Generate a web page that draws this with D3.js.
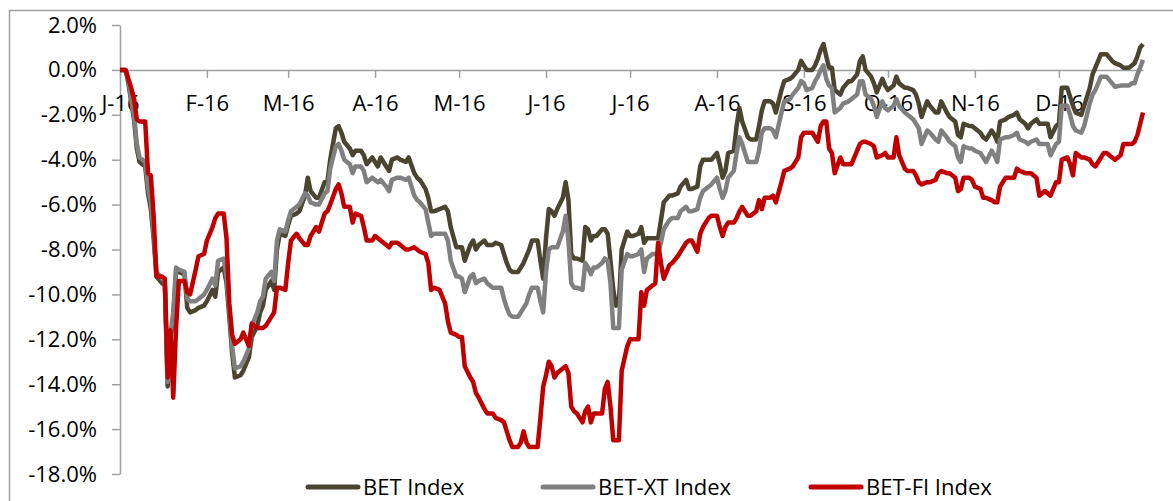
<!DOCTYPE html>
<html>
<head>
<meta charset="utf-8">
<title>BET indices 2016</title>
<style>
body { margin: 0; background: #fff; }
.axis text { font-family: "Open Sans", sans-serif; font-size: 22px; fill: #000; }
.axis path, .axis line { stroke: #a0a0a0; stroke-width: 1.5; }
.legend text { font-family: "Open Sans", sans-serif; font-size: 22px; fill: #000; }
.line { fill: none; stroke-width: 4.5; stroke-linejoin: round; }
</style>
<script src="https://d3js.org/d3.v7.min.js"></script>
</head>
<body>
<svg id="chart" width="1173" height="501"></svg>
<script>

// day offsets from 1 Jan 2016
var dayOfYear = [
  0, 2, 3, 4, 5, 6, 7, 9, 10, 11,
  12, 13, 15, 16, 17, 18, 19, 20, 21, 23,
  24, 25, 27, 28, 30, 31, 33, 34, 35, 37,
  38, 39, 40, 41, 43, 44, 46, 47, 49, 50,
  51, 52, 54, 55, 56, 57, 59, 60, 61, 63,
  64, 66, 67, 68, 70, 71, 73, 74, 75, 77,
  78, 79, 80, 82, 83, 84, 86, 87, 88, 90,
  91, 92, 93, 95, 96, 97, 99, 100, 102, 103,
  105, 106, 107, 109, 110, 111, 112, 114, 116, 117,
  118, 120, 121, 122, 123, 125, 126, 127, 128, 130,
  131, 133, 134, 136, 137, 138, 139, 140, 142, 143,
  144, 145, 146, 147, 149, 150, 151, 152, 153, 154,
  155, 156, 158, 159, 160, 161, 162, 163, 165, 166,
  167, 168, 169, 170, 172, 173, 174, 175, 176, 177,
  178, 179, 181, 182, 183, 185, 186, 187, 188, 190,
  191, 192, 193, 194, 196, 197, 199, 200, 202, 203,
  204, 206, 207, 208, 210, 211, 213, 214, 215, 216,
  217, 219, 220, 221, 222, 224, 225, 227, 228, 229,
  230, 232, 233, 234, 236, 237, 239, 240, 242, 243,
  244, 245, 247, 248, 249, 250, 251, 252, 253, 254,
  255, 257, 258, 260, 261, 263, 264, 265, 266, 268,
  269, 270, 272, 273, 274, 276, 277, 278, 280, 281,
  283, 284, 285, 286, 288, 289, 291, 292, 293, 295,
  296, 298, 299, 300, 301, 303, 304, 305, 307, 308,
  309, 311, 312, 313, 314, 316, 317, 319, 320, 321,
  323, 324, 325, 327, 328, 330, 331, 332, 334, 335,
  336, 338, 339, 340, 341, 343, 344, 346, 347, 348,
  350, 351, 352, 354, 355, 357, 358, 360, 361, 362,
  363, 364, 365
];

var betIndex = [
  0, 0, -0.6, -1.4, -2.2, -3.5, -4.1, -4.3, -5.5, -6.2,
  -7.5, -9.2, -9.5, -9.6, -14.1, -12.0, -11.0, -9.0, -9.0, -9.1,
  -10.6, -10.8, -10.7, -10.6, -10.5, -10.3, -9.8, -10.1, -9.0, -8.8,
  -9.5, -11.0, -12.6, -13.7, -13.6, -13.4, -12.8, -11.9, -11.4, -10.8,
  -10.5, -9.8, -9.4, -9.8, -8.0, -7.3, -7.4, -6.9, -6.5, -6.4,
  -6.3, -5.6, -4.8, -5.4, -5.7, -5.7, -5.0, -5.0, -4.0, -2.6,
  -2.5, -2.8, -3.2, -3.5, -3.8, -3.6, -3.6, -3.8, -4.2, -3.9,
  -4.1, -4.3, -3.9, -4.3, -4.5, -4.0, -3.9, -4.0, -4.1, -3.9,
  -4.6, -4.8, -4.9, -5.3, -5.7, -6.3, -6.3, -6.2, -6.1, -6.3,
  -7.0, -7.9, -7.9, -7.9, -8.5, -7.8, -7.6, -8.0, -7.8, -7.6,
  -7.8, -7.8, -7.7, -7.8, -8.2, -8.6, -8.9, -9.0, -9.0, -8.8,
  -8.6, -8.3, -8.0, -7.6, -7.6, -8.5, -9.3, -7.5, -6.2, -6.3,
  -6.5, -6.2, -5.7, -5.0, -5.8, -8.2, -8.4, -8.4, -8.5, -7.0,
  -7.1, -7.6, -7.4, -7.4, -7.1, -7.1, -7.3, -8.5, -9.8, -10.5,
  -10.4, -8.0, -7.2, -7.4, -7.4, -7.3, -7.0, -7.7, -7.5, -7.5,
  -7.5, -7.5, -6.7, -5.9, -5.6, -5.6, -5.5, -5.2, -4.9, -5.3,
  -5.3, -5.2, -4.3, -4.0, -4.0, -4.0, -3.7, -4.2, -4.8, -4.5,
  -3.7, -3.6, -2.5, -1.7, -2.3, -3.0, -3.1, -3.1, -2.5, -1.8,
  -1.4, -1.4, -1.5, -1.9, -0.9, -0.5, -0.4, -0.3, 0.0, 0.4,
  0.2, 0.0, 0.0, 0.2, 0.5, 0.9, 1.15, 0.6, 0.1, 0.1,
  -0.9, -1.1, -0.8, -0.5, -0.5, -0.2, 0.4, 0.6, 0.0, -0.3,
  -0.6, -1.0, -0.4, -0.7, -0.9, -0.7, -0.3, -0.6, -0.8, -0.8,
  -0.9, -1.1, -1.5, -2.1, -1.4, -1.6, -1.9, -1.9, -1.4, -1.9,
  -2.1, -2.3, -2.9, -3.0, -2.4, -2.5, -2.5, -2.6, -2.8, -3.0,
  -3.1, -2.7, -2.9, -3.2, -2.3, -2.2, -2.1, -2.0, -1.9, -2.2,
  -2.4, -2.6, -2.4, -2.2, -2.4, -2.4, -2.4, -3.0, -2.5, -2.4,
  -0.8, -0.8, -1.2, -1.6, -1.9, -2.0, -1.6, -0.8, -0.2, 0.1,
  0.7, 0.7, 0.7, 0.4, 0.3, 0.2, 0.1, 0.1, 0.2, 0.3,
  0.6, 1.0, 1.15
];

var betXtIndex = [
  0, 0, -0.5, -1.3, -2.0, -3.3, -3.9, -4.1, -5.2, -5.9,
  -7.2, -9.0, -9.3, -9.4, -13.9, -11.8, -10.8, -8.8, -8.9, -9.0,
  -10.2, -10.3, -10.3, -10.2, -10.0, -9.8, -9.3, -9.6, -8.5, -8.4,
  -9.2, -10.7, -12.3, -13.3, -13.2, -13.0, -12.4, -11.4, -10.8, -10.3,
  -10.1, -9.3, -9.0, -9.4, -7.6, -7.1, -7.2, -6.7, -6.3, -6.1,
  -6.0, -5.5, -5.6, -5.9, -6.0, -6.0, -5.5, -5.4, -4.4, -3.4,
  -3.3, -3.6, -4.0, -4.2, -4.6, -4.3, -4.3, -4.5, -5.0, -4.8,
  -4.9, -5.0, -4.9, -5.2, -5.4, -4.9, -4.8, -4.8, -4.9, -4.8,
  -5.6, -5.8, -5.9, -6.2, -6.8, -7.4, -7.3, -7.3, -7.3, -7.6,
  -8.5, -9.2, -9.2, -9.3, -9.9, -9.2, -9.1, -9.5, -9.4, -9.3,
  -9.5, -9.7, -9.7, -9.7, -10.2, -10.6, -10.9, -11.0, -11.0, -10.8,
  -10.6, -10.4, -10.0, -9.7, -9.7, -10.3, -10.8, -9.0, -8.0, -7.9,
  -7.9, -7.9, -7.2, -6.5, -7.6, -9.5, -9.7, -9.7, -9.8, -8.6,
  -8.8, -9.1, -8.8, -8.8, -8.6, -8.4, -8.5, -9.5, -11.5, -11.5,
  -11.5, -8.9, -8.2, -8.3, -8.3, -8.2, -8.0, -9.0, -8.4, -8.2,
  -8.2, -8.1, -7.7, -7.1, -6.7, -6.6, -6.6, -6.3, -6.1, -6.3,
  -6.3, -6.2, -5.7, -5.4, -5.2, -5.1, -4.8, -5.3, -5.7, -5.4,
  -4.8, -4.5, -3.7, -3.0, -3.3, -4.1, -4.1, -4.1, -3.6, -2.8,
  -2.6, -2.6, -2.7, -3.0, -1.9, -1.4, -1.3, -1.1, -0.8, -0.5,
  -0.6, -0.9, -0.8, -0.5, -0.3, 0.0, 0.2, -0.4, -0.7, -0.8,
  -1.9, -1.7, -1.5, -1.4, -1.3, -1.1, -0.5, -0.5, -1.1, -1.3,
  -1.6, -2.1, -1.4, -1.7, -1.8, -1.6, -1.3, -1.6, -1.9, -2.0,
  -2.2, -2.4, -2.6, -3.3, -2.7, -2.8, -3.1, -3.2, -2.7, -3.0,
  -3.2, -3.4, -3.9, -4.1, -3.4, -3.5, -3.5, -3.6, -3.7, -3.9,
  -4.1, -3.6, -3.8, -4.1, -3.1, -3.0, -3.0, -2.9, -2.8, -3.1,
  -3.2, -3.3, -3.2, -3.1, -3.3, -3.3, -3.3, -3.8, -3.3, -3.2,
  -1.6, -1.6, -2.0, -2.5, -2.7, -2.8, -2.5, -1.5, -1.1, -0.9,
  -0.3, -0.3, -0.3, -0.6, -0.75, -0.7, -0.7, -0.7, -0.6, -0.6,
  -0.2, 0.1, 0.45
];

var betFiIndex = [
  0, 0, -0.4, -0.8, -1.3, -2.2, -2.3, -2.3, -4.6, -4.7,
  -6.5, -9.2, -9.2, -9.3, -13.7, -11.6, -14.6, -11.5, -9.4, -9.4,
  -9.9, -10.0, -8.9, -8.3, -8.2, -7.6, -7.0, -6.6, -6.4, -6.4,
  -7.5, -10.4, -11.8, -12.2, -12.0, -11.7, -12.3, -11.3, -11.5, -11.5,
  -11.5, -11.4, -11.0, -10.8, -9.7, -9.7, -9.8, -8.6, -7.6, -7.3,
  -7.5, -7.8, -7.8, -7.4, -7.0, -7.2, -6.4, -6.3, -6.0, -5.3,
  -5.1, -5.5, -6.1, -6.1, -6.8, -6.4, -6.5, -7.0, -7.6, -7.6,
  -7.4, -7.5, -7.6, -7.8, -7.9, -7.7, -7.7, -7.8, -8.0, -8.0,
  -7.9, -8.0, -8.1, -8.2, -8.6, -9.8, -9.7, -9.8, -10.4, -11.2,
  -11.7, -11.8, -11.9, -11.9, -13.2, -13.7, -13.9, -14.4, -14.6, -15.1,
  -15.3, -15.3, -15.5, -15.6, -15.7, -16.1, -16.5, -16.8, -16.8, -16.6,
  -16.1, -16.6, -16.8, -16.8, -16.8, -15.5, -14.1, -13.6, -13.0, -13.2,
  -13.7, -13.5, -13.3, -13.2, -13.5, -15.0, -15.2, -15.3, -15.7, -15.2,
  -15.0, -15.7, -15.3, -15.3, -15.3, -14.2, -13.9, -15.0, -16.5, -16.5,
  -16.5, -13.4, -12.3, -12.0, -12.0, -12.0, -9.9, -10.5, -9.8, -9.6,
  -9.5, -7.7, -8.6, -9.3, -8.7, -8.6, -8.3, -8.1, -7.7, -7.6,
  -7.6, -8.1, -7.3, -7.0, -6.6, -6.5, -6.5, -7.0, -7.4, -7.0,
  -6.8, -6.8, -6.6, -6.3, -6.1, -6.5, -6.5, -6.3, -5.8, -6.2,
  -5.7, -5.7, -5.6, -5.9, -5.0, -4.5, -4.4, -4.3, -3.9, -3.0,
  -2.8, -2.8, -2.8, -3.0, -3.2, -2.5, -2.3, -2.3, -3.5, -3.7,
  -4.6, -3.9, -4.2, -4.2, -4.2, -3.6, -3.3, -3.2, -3.2, -3.3,
  -3.4, -3.9, -3.8, -3.7, -3.9, -3.9, -3.0, -3.8, -4.4, -4.5,
  -4.5, -4.7, -5.0, -5.1, -5.0, -5.0, -4.9, -4.6, -4.5, -4.6,
  -4.6, -4.8, -5.4, -5.3, -4.8, -4.8, -4.9, -5.2, -5.3, -5.7,
  -5.7, -5.8, -5.9, -5.9, -5.2, -4.8, -4.8, -4.8, -4.4, -4.5,
  -4.6, -4.6, -4.6, -4.8, -5.6, -5.4, -5.5, -5.6, -5.0, -5.0,
  -4.0, -3.9, -4.2, -4.7, -3.7, -3.9, -3.9, -4.0, -4.2, -4.3,
  -3.9, -3.7, -3.7, -3.9, -4.0, -3.8, -3.3, -3.3, -3.3, -3.2,
  -2.9, -2.4, -1.9
];

var seriesNames = ["BET Index", "BET-XT Index", "BET-FI Index"];
var seriesColors = ["#4a4530", "#808080", "#c00000"];
var yTicks = [2, 0, -2, -4, -6, -8, -10, -12, -14, -16, -18];
var monthLetters = ["J", "F", "M", "A", "M", "J", "J", "A", "S", "O", "N", "D"];

var width = 1173, height = 501;
var margin = {top: 25, right: 30, bottom: 27, left: 120};

var start = new Date(2016, 0, 1);
var dates = dayOfYear.map(function(d) { return d3.timeDay.offset(start, d); });

var x = d3.scaleTime()
  .domain([start, new Date(2016, 11, 31)])
  .range([margin.left, width - margin.right]);

var y = d3.scaleLinear()
  .domain([-18, 2])
  .range([height - margin.bottom, margin.top]);

var svg = d3.select("#chart");

// outer chart frame (only top and left edge fall inside the picture)
svg.append("rect")
  .attr("x", 9.5).attr("y", 10.5)
  .attr("width", 1300).attr("height", 600)
  .attr("fill", "none").attr("stroke", "#a0a0a0").attr("stroke-width", 1.5);

var monthStarts = d3.range(12).map(function(m) { return new Date(2016, m, 1); });

var xAxis = g => g
  .attr("transform", `translate(0,${y(0)})`)
  .call(d3.axisBottom(x).tickValues(monthStarts).tickSize(8).tickSizeOuter(0).tickPadding(17)
    .tickFormat(function(d) { return monthLetters[d.getMonth()] + "-16"; }));

var yAxis = g => g
  .attr("transform", `translate(${margin.left},0)`)
  .call(d3.axisLeft(y).tickValues(yTicks).tickSize(8).tickSizeOuter(0).tickPadding(15)
    .tickFormat(function(d) { return d.toFixed(1) + "%"; }));

svg.append("g").attr("class", "axis").call(yAxis);
svg.append("g").attr("class", "axis").call(xAxis);

var valueline = function(values) {
  return d3.line()
    .x(function(d, i) { return x(dates[i]); })
    .y(function(d) { return y(d); })(values);
};

[betIndex, betXtIndex, betFiIndex].forEach(function(values, k) {
  svg.append("path")
    .attr("class", "line")
    .style("stroke", seriesColors[k])
    .attr("d", valueline(values));
});

// legend
var legendX = [308, 543, 811];
var legend = svg.append("g").attr("class", "legend");
seriesNames.forEach(function(name, k) {
  legend.append("line")
    .attr("x1", legendX[k]).attr("x2", legendX[k] + 50)
    .attr("y1", 487).attr("y2", 487)
    .attr("stroke", seriesColors[k]).attr("stroke-width", 5).attr("stroke-linecap", "round");
  legend.append("text")
    .attr("x", legendX[k] + 55).attr("y", 487)
    .attr("dy", "0.35em")
    .text(name);
});

</script>
</body>
</html>
